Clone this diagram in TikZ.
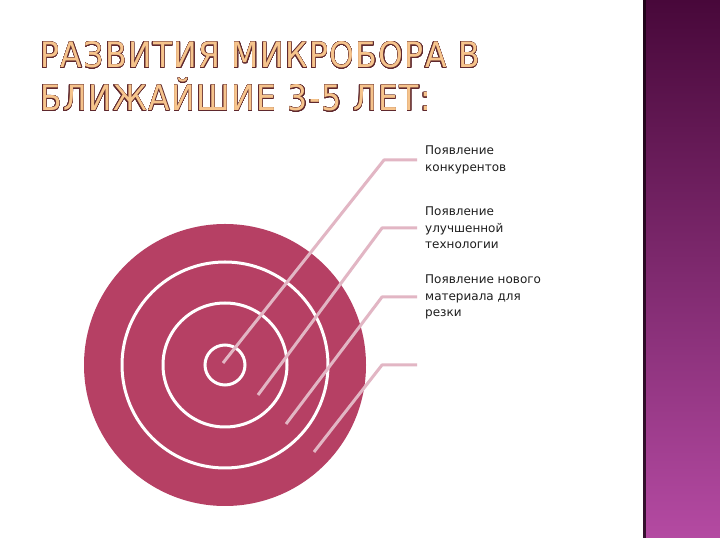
\documentclass[tikz,border=0pt]{standalone}
\usepackage{fontspec}
\setmainfont{DejaVu Sans}
\newfontfamily\titlefont[LetterSpace=4]{DejaVu Sans Condensed}
\usepackage{contour}
\contourlength{0.45pt}
\contournumber{24}
\definecolor{target}{RGB}{182,64,100}
\definecolor{linkc}{RGB}{226,182,196}
\definecolor{bandtop}{RGB}{72,8,58}
\definecolor{bandbot}{RGB}{180,74,162}
\definecolor{tfill}{RGB}{246,196,140}
\definecolor{tout}{RGB}{95,40,45}
\definecolor{txt}{RGB}{30,30,30}
\tikzset{
  ring/.style={draw=white, line width=3pt},
  link/.style={draw=linkc, line width=3pt, line join=round},
  label/.style={anchor=west, align=left, text=txt, font=\fontsize{12}{16.5}\selectfont, inner sep=0pt},
  titletext/.style={anchor=base west, inner sep=0pt, font=\titlefont\fontsize{35}{40}\selectfont}
}
\begin{document}
\begin{tikzpicture}[x=1pt,y=1pt]
\useasboundingbox (0,0) rectangle (720,540);
\fill[white] (0,0) rectangle (720,540);
% side band
\shade[top color=bandtop, bottom color=bandbot] (643,2) rectangle (720,540);
\fill[black!70!bandtop, opacity=0.8] (643,2) rectangle (645.5,540);
% title
\node[titletext] (title1) at (40,472) {\textcolor{tfill}{\contour{tout}{РАЗВИТИЯ МИКРОБОРА В}}};
\node[titletext] (title2) at (40,429) {\textcolor{tfill}{\contour{tout}{БЛИЖАЙШИЕ 3-5 ЛЕТ:}}};
% target
\node[circle, fill=target, minimum size=282pt, inner sep=0pt] (target) at (225,175) {};
\draw[ring] (target.center) circle[radius=103];
\draw[ring] (target.center) circle[radius=62];
\draw[ring] (target.center) circle[radius=20];
% connector points
\coordinate (s1) at (223,177); \coordinate (c1) at (384,380); \coordinate (e1) at (417,380);
\coordinate (s2) at (258,145); \coordinate (c2) at (382,312); \coordinate (e2) at (417,312);
\coordinate (s3) at (286,116); \coordinate (c3) at (382,243); \coordinate (e3) at (417,243);
\coordinate (s4) at (314,88);  \coordinate (c4) at (382,175); \coordinate (e4) at (417,175);
\draw[link] (s1) -- (c1) -- (e1);
\draw[link] (s2) -- (c2) -- (e2);
\draw[link] (s3) -- (c3) -- (e3);
\draw[link] (s4) -- (c4) -- (e4);
% labels
\node[label] (l1) at (425,380) {Появление\\конкурентов};
\node[label] (l2) at (425,312) {Появление\\улучшенной\\технологии};
\node[label] (l3) at (425,243) {Появление нового\\материала для\\резки};
\end{tikzpicture}
\end{document}
